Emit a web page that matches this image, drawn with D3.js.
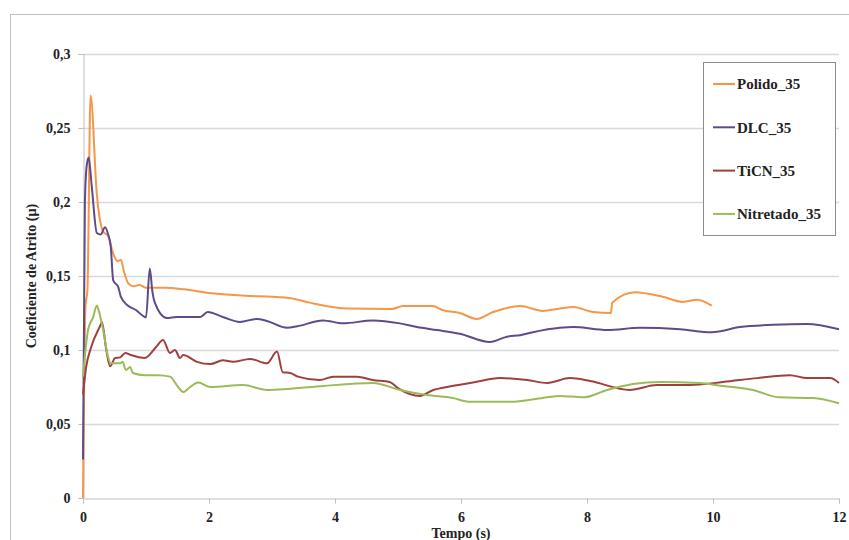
<!DOCTYPE html>
<html>
<head>
<meta charset="utf-8">
<script src="https://cdn.jsdelivr.net/npm/d3@7"></script>
<style>
  body { margin: 0; background: #fff; }
  text { font-family: "Liberation Serif", "Times New Roman", serif; font-weight: bold; fill: #222; }
</style>
</head>
<body>
<svg id="chart" width="849" height="540"></svg>
<script>
// data (time in s, coefficient of friction)
var seriesNames = ["Polido_35", "DLC_35", "TiCN_35", "Nitretado_35"];
var seriesColors = ["#F79646", "#5F4B8B", "#A0403E", "#9BBB59"];
var yTicks = [0, 0.05, 0.1, 0.15, 0.2, 0.25, 0.3];
var xTicks = [0, 2, 4, 6, 8, 10, 12];

var polido = [[0,0],[0.04,0.13],[0.07,0.14],[0.12,0.272],[0.22,0.205],[0.32,0.18],[0.4,0.177],[0.48,0.165],
  [0.55,0.16],[0.6,0.161],[0.65,0.153],[0.72,0.145],[0.8,0.143],[0.9,0.144],[1.0,0.142],[1.1,0.142],[1.3,0.142],
  [1.6,0.141],[2.0,0.1385],[2.65,0.1365],[3.0,0.136],[3.3,0.135],[3.6,0.132],[4.2,0.128],[4.9,0.1277],[5.08,0.1297],
  [5.55,0.1297],[5.7,0.127],[5.98,0.125],[6.25,0.121],[6.51,0.1257],[6.94,0.1297],[7.3,0.1264],[7.57,0.128],
  [7.78,0.129],[8.1,0.1257],[8.38,0.125],[8.4,0.132],[8.76,0.139],[9.2,0.136],[9.52,0.1325],[9.75,0.134],[9.98,0.130]];

var dlc = [[0,0.026],[0.03,0.2],[0.06,0.225],[0.09,0.23],[0.14,0.21],[0.22,0.179],[0.28,0.178],[0.35,0.183],
  [0.4,0.178],[0.44,0.17],[0.48,0.147],[0.56,0.1425],[0.6,0.136],[0.71,0.130],[0.84,0.127],[0.98,0.1223],[1.0,0.122],
  [1.06,0.155],[1.1,0.14],[1.14,0.132],[1.33,0.1216],[1.49,0.1223],[1.86,0.1223],[1.98,0.1257],[2.22,0.1223],
  [2.49,0.119],[2.76,0.121],[2.92,0.1196],[3.24,0.115],[3.4,0.116],[3.81,0.120],[4.13,0.118],[4.6,0.120],[5.03,0.118],
  [5.3,0.1155],[5.62,0.1135],[5.98,0.111],[6.46,0.1054],[6.73,0.109],[6.94,0.110],[7.14,0.112],[7.57,0.115],
  [7.78,0.1155],[8.32,0.1135],[8.84,0.115],[9.48,0.114],[9.98,0.112],[10.43,0.1155],[10.95,0.117],[11.49,0.1176],[12.0,0.114]];

var ticn = [[0,0.07],[0.05,0.0885],[0.13,0.102],[0.29,0.118],[0.3,0.119],[0.37,0.100],[0.43,0.089],[0.51,0.0946],
  [0.59,0.095],[0.67,0.098],[0.76,0.0966],[0.98,0.0946],[1.16,0.102],[1.27,0.1068],[1.38,0.098],[1.46,0.100],
  [1.54,0.0946],[1.59,0.0966],[1.81,0.092],[2.02,0.0905],[2.22,0.093],[2.38,0.092],[2.65,0.094],[2.92,0.091],
  [3.08,0.099],[3.17,0.085],[3.29,0.0845],[3.41,0.082],[3.76,0.0797],[3.97,0.082],[4.35,0.082],[4.6,0.0797],
  [4.87,0.0784],[5.0,0.0743],[5.35,0.069],[5.56,0.073],[5.78,0.075],[6.19,0.078],[6.62,0.081],[7.05,0.0797],
  [7.37,0.0777],[7.73,0.081],[8.05,0.079],[8.68,0.073],[9.11,0.0763],[9.63,0.0763],[10.16,0.0784],[10.7,0.081],
  [11.22,0.083],[11.49,0.081],[11.86,0.081],[12.0,0.0777]];

var nitretado = [[0,0.082],[0.08,0.1135],[0.16,0.122],[0.22,0.13],[0.24,0.128],[0.32,0.1135],[0.4,0.095],[0.44,0.091],
  [0.59,0.091],[0.63,0.092],[0.68,0.0865],[0.75,0.0885],[0.79,0.0845],[0.98,0.083],[1.19,0.083],[1.38,0.082],
  [1.51,0.075],[1.59,0.0716],[1.7,0.075],[1.83,0.078],[2.02,0.075],[2.54,0.0763],[2.92,0.073],[3.24,0.0736],
  [3.81,0.0757],[4.6,0.0777],[5.03,0.073],[5.46,0.0696],[5.87,0.0676],[6.14,0.065],[6.51,0.065],[6.78,0.065],
  [7.3,0.0676],[7.57,0.069],[7.94,0.068],[8.32,0.073],[8.73,0.077],[9.16,0.0784],[9.79,0.0777],[10.16,0.0757],
  [10.63,0.073],[11.06,0.068],[11.59,0.0676],[12.0,0.064]];

var allSeries = [polido, dlc, ticn, nitretado];

var svg = d3.select("#chart");
var plotLeft = 83, plotRight = 839, plotTop = 54, plotBottom = 498;

var x = d3.scaleLinear().domain([0, 12]).range([plotLeft, plotRight]);
var y = d3.scaleLinear().domain([0, 0.3]).range([plotBottom, plotTop]);
var fmt = function(d) { return String(d).replace(".", ","); };

// outer frame
svg.append("rect")
  .attr("x", 10.5).attr("y", 14.5)
  .attr("width", 850).attr("height", 540)
  .attr("fill", "none").attr("stroke", "#BFBFBF").attr("stroke-width", 1);

// gridlines
svg.append("g").selectAll("line").data(yTicks.slice(1)).enter().append("line")
  .attr("x1", plotLeft).attr("x2", plotRight)
  .attr("y1", function(d) { return Math.round(y(d)) + 0.5; })
  .attr("y2", function(d) { return Math.round(y(d)) + 0.5; })
  .attr("stroke", "#D9D9D9").attr("stroke-width", 1.5);

// y axis
var yAxis = svg.append("g")
  .attr("transform", "translate(" + (plotLeft + 0.5) + ",0)")
  .call(d3.axisLeft(y).tickValues(yTicks).tickFormat(fmt).tickSize(5).tickPadding(8));
yAxis.select(".domain").attr("stroke", "#BFBFBF");
yAxis.selectAll(".tick line").attr("stroke", "#BFBFBF");
yAxis.selectAll("text").attr("font-size", 14).attr("font-family", null).attr("fill", "#222");

// x axis
var xAxis = svg.append("g")
  .attr("transform", "translate(0," + (plotBottom + 0.5) + ")")
  .call(d3.axisBottom(x).tickValues(xTicks).tickSize(5).tickPadding(9));
xAxis.select(".domain").attr("stroke", "#BFBFBF");
xAxis.selectAll(".tick line").attr("stroke", "#BFBFBF");
xAxis.selectAll("text").attr("font-size", 14).attr("font-family", null).attr("fill", "#222");

// lines
var line = d3.line()
  .curve(d3.curveMonotoneX)
  .x(function(d) { return x(d[0]); })
  .y(function(d) { return y(d[1]); });

svg.append("g").selectAll("path").data(allSeries).enter().append("path")
  .attr("d", line)
  .attr("fill", "none")
  .attr("stroke", function(d, i) { return seriesColors[i]; })
  .attr("stroke-width", 2)
  .attr("stroke-linejoin", "round");

// titles
svg.append("text")
  .attr("x", 461).attr("y", 538)
  .attr("text-anchor", "middle").attr("font-size", 14)
  .text("Tempo (s)");

svg.append("text")
  .attr("transform", "translate(36," + 276 + ") rotate(-90)")
  .attr("text-anchor", "middle").attr("font-size", 14)
  .text("Coeficiente de Atrito (µ)");

// legend
var legend = svg.append("g");
legend.append("rect")
  .attr("x", 703.5).attr("y", 62.5).attr("width", 132).attr("height", 173)
  .attr("fill", "#fff").attr("stroke", "#8C8C8C");
var items = legend.selectAll("g.item").data(seriesNames).enter().append("g")
  .attr("transform", function(d, i) { return "translate(713," + (84 + i * 43.3) + ")"; });
items.append("line")
  .attr("x1", 0).attr("x2", 22)
  .attr("stroke", function(d, i) { return seriesColors[i]; })
  .attr("stroke-width", 2);
items.append("text")
  .attr("x", 24).attr("dy", "0.35em").attr("font-size", 15)
  .text(function(d) { return d; });
</script>
</body>
</html>
